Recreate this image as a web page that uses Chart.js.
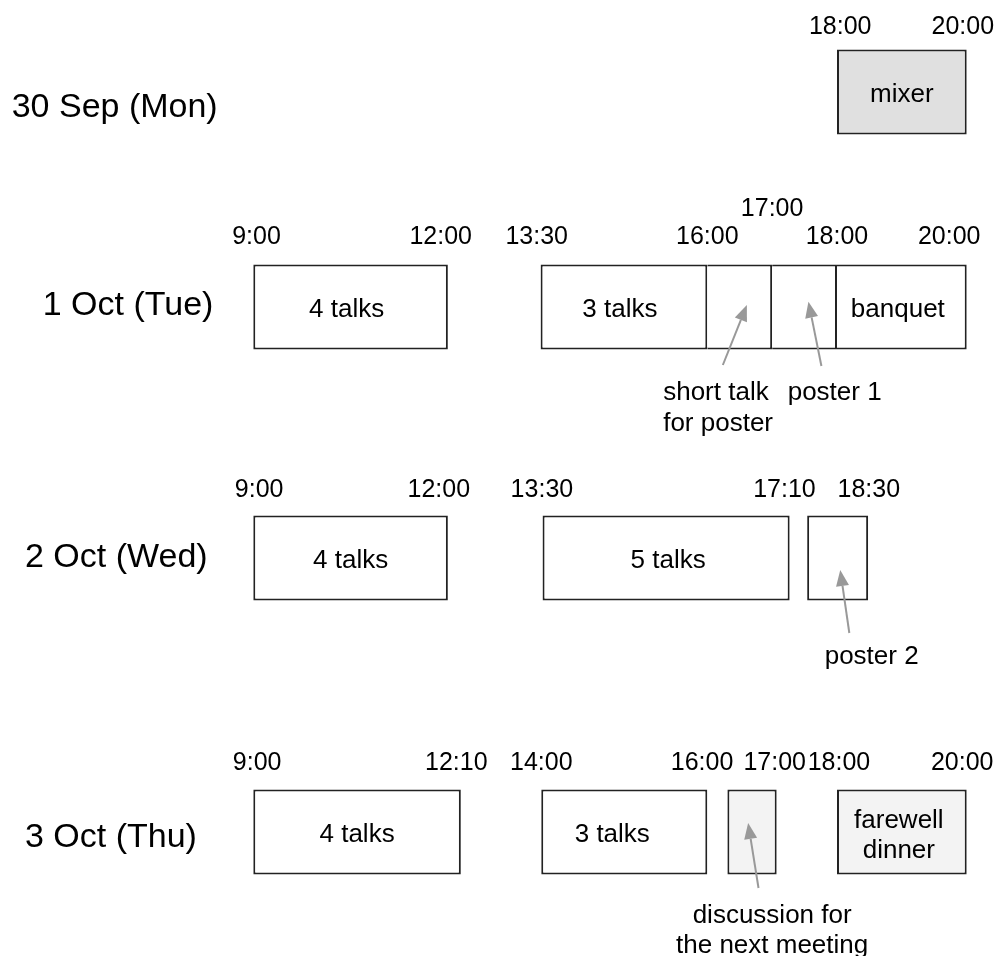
<!DOCTYPE html>
<html>
<head>
<meta charset="utf-8">
<script src="https://cdn.jsdelivr.net/npm/chart.js@4/dist/chart.umd.min.js"></script>
<style>
  html, body { margin: 0; padding: 0; background: #ffffff; }
  #wrap { width: 999px; height: 956px; position: relative; }
</style>
</head>
<body>
<div id="wrap"><canvas id="c"></canvas></div>
<script>
// ---------- DATA (times in hours, as drawn on the diagram's time line) ----------
const days = ['30 Sep (Mon)', '1 Oct (Tue)', '2 Oct (Wed)', '3 Oct (Thu)'];

const sessionDay   = [0,     1,       1,       1,    1,    1,         2,       2,       2,     3,       3,       3,     3];
const sessionStart = [18.0,  9.0,     13.43,   16.0, 17.0, 18.0,      9.0,     13.46,   17.54, 9.0,     13.44,   16.31, 18.0];
const sessionEnd   = [20.0,  12.0,    16.0,    17.0, 18.0, 20.0,      12.0,    17.27,   18.48, 12.2,    16.0,    17.07, 20.0];
const sessionText  = ['mixer','4 talks','3 talks','', '',   'banquet', '4 talks','5 talks','',   '4 talks','3 talks','',   'farewell\ndinner'];

// time labels written above each day's boxes
const monTimes   = ['18:00', '20:00'];
const monTimesAt = [18.05, 19.94];
const tueTimes   = ['9:00', '12:00', '13:30', '16:00', '17:00', '18:00', '20:00'];
const tueTimesAt = [9.05, 11.89, 13.37, 16.0, 17.0, 18.0, 19.73];
const wedTimes   = ['9:00', '12:00', '13:30', '17:10', '18:30'];
const wedTimesAt = [9.09, 11.86, 13.45, 17.19, 18.49];
const thuTimes   = ['9:00', '12:10', '14:00', '16:00', '17:00', '18:00', '20:00'];
const thuTimesAt = [9.06, 12.13, 13.44, 15.92, 17.04, 18.03, 19.93];

// call-out notes
const noteText = ['short talk\nfor poster', 'poster 1', 'poster 2', 'discussion for\nthe next meeting'];

// ---------- LAYOUT / STYLE ----------
const rowCenter = [92, 307, 558, 832];
const boxHeight = 85;
const timeBaseline = [34, 244, 497, 770];
const dayLabelPos = [[11.7, 117], [42.7, 315], [25, 566.5], [25, 846.7]];
const raisedTime = { row: 1, text: '17:00', baseline: 216 };
const sessionFill = ['#e0e0e0', '#ffffff', '#ffffff', '#ffffff', '#ffffff', '#ffffff',
                     '#ffffff', '#ffffff', '#ffffff', '#ffffff', '#ffffff', '#f3f3f3', '#f3f3f3'];
const sharedLeftEdge = [false, false, false, true, true, true, false, false, false, false, false, false, false];
const textShift = [0, -4, -4, 0, 0, -4, 0, 2, 0, 0, -12, 0, -3];
// notes: text anchor (hours, px baseline), align, arrow tail -> tip (hours, px)
const noteLayout = [
  { x: 15.32, y: 400, align: 'left',   tail: [16.24, 365], tip: [16.61, 305] },
  { x: 17.24, y: 400, align: 'left',   tail: [17.76, 366], tip: [17.56, 301.7] },
  { x: 17.81, y: 664, align: 'left',   tail: [18.19, 633], tip: [18.05, 570] },
  { x: 17.00, y: 922.7, align: 'center', tail: [16.79, 888], tip: [16.63, 823] }
];
const FONT = '"Liberation Sans", Arial, Helvetica, sans-serif';

const rowTimes = [
  [monTimes, monTimesAt], [tueTimes, tueTimesAt], [wedTimes, wedTimesAt], [thuTimes, thuTimesAt]
];

const barData = sessionDay.map((d, i) => ({ x: [sessionStart[i], sessionEnd[i]], y: rowCenter[d] }));
const borderWidths = sharedLeftEdge.map(s => s ? { top: 2, right: 2, bottom: 2, left: 0 } : 2);

const textPlugin = {
  id: 'scheduleText',
  afterDatasetsDraw(chart) {
    const ctx = chart.ctx;
    const xs = chart.scales.x, ys = chart.scales.y;
    ctx.save();
    ctx.fillStyle = '#000000';
    ctx.textBaseline = 'alphabetic';

    // day labels
    ctx.font = '34px ' + FONT;
    ctx.textAlign = 'left';
    days.forEach((d, i) => ctx.fillText(d, dayLabelPos[i][0], ys.getPixelForValue(dayLabelPos[i][1])));

    // time labels
    ctx.font = '25px ' + FONT;
    ctx.textAlign = 'center';
    rowTimes.forEach(([labels, at], r) => {
      labels.forEach((t, k) => {
        let yb = timeBaseline[r];
        if (r === raisedTime.row && t === raisedTime.text) yb = raisedTime.baseline;
        ctx.fillText(t, xs.getPixelForValue(at[k]), ys.getPixelForValue(yb));
      });
    });

    // session texts
    ctx.font = '26px ' + FONT;
    const meta = chart.getDatasetMeta(0);
    meta.data.forEach((bar, i) => {
      const txt = sessionText[i];
      if (!txt) return;
      const cx = (xs.getPixelForValue(sessionStart[i]) + xs.getPixelForValue(sessionEnd[i])) / 2 + textShift[i];
      const cy = ys.getPixelForValue(rowCenter[sessionDay[i]]);
      const lines = txt.split('\n');
      if (lines.length === 1) {
        ctx.fillText(lines[0], cx, cy + 10);
      } else {
        ctx.fillText(lines[0], cx, cy - 4);
        ctx.fillText(lines[1], cx, cy + 26);
      }
    });

    // call-outs with arrows
    noteLayout.forEach((n, i) => {
      ctx.font = '26px ' + FONT;
      ctx.fillStyle = '#000000';
      ctx.textAlign = n.align;
      const tx = xs.getPixelForValue(n.x);
      noteText[i].split('\n').forEach((ln, k) => ctx.fillText(ln, tx, ys.getPixelForValue(n.y) + k * 30.5));

      const x1 = xs.getPixelForValue(n.tail[0]), y1 = ys.getPixelForValue(n.tail[1]);
      const x2 = xs.getPixelForValue(n.tip[0]),  y2 = ys.getPixelForValue(n.tip[1]);
      const ang = Math.atan2(y2 - y1, x2 - x1);
      const headLen = 16, headHalf = 6.5;
      const bx = x2 - headLen * Math.cos(ang), by = y2 - headLen * Math.sin(ang);
      ctx.strokeStyle = '#999999';
      ctx.fillStyle = '#999999';
      ctx.lineWidth = 2;
      ctx.beginPath();
      ctx.moveTo(x1, y1);
      ctx.lineTo(bx, by);
      ctx.stroke();
      ctx.beginPath();
      ctx.moveTo(x2, y2);
      ctx.lineTo(bx + headHalf * Math.sin(ang), by - headHalf * Math.cos(ang));
      ctx.lineTo(bx - headHalf * Math.sin(ang), by + headHalf * Math.cos(ang));
      ctx.closePath();
      ctx.fill();
      ctx.fillStyle = '#000000';
    });
    ctx.restore();
  }
};

// x scale: 9:00 at 253.3px and 20:00 at 966.7px across the full 999px canvas
const pxPerHour = (966.7 - 253.3) / 11;
const xMin = 9 - 253.3 / pxPerHour;
const xMax = xMin + 999 / pxPerHour;

new Chart(document.getElementById('c'), {
  type: 'bar',
  data: {
    datasets: [{
      data: barData,
      backgroundColor: sessionFill,
      borderColor: '#222222',
      borderWidth: borderWidths,
      borderSkipped: false,
      inflateAmount: 0,
      barThickness: boxHeight
    }]
  },
  options: {
    indexAxis: 'y',
    responsive: true,
    maintainAspectRatio: false,
    animation: false,
    events: [],
    layout: { padding: 0 },
    scales: {
      x: { type: 'linear', min: xMin, max: xMax, display: false, offset: false },
      y: { type: 'linear', min: 0, max: 956, reverse: true, display: false, offset: false }
    },
    plugins: { legend: { display: false }, tooltip: { enabled: false }, title: { display: false } }
  },
  plugins: [textPlugin]
});
</script>
</body>
</html>
